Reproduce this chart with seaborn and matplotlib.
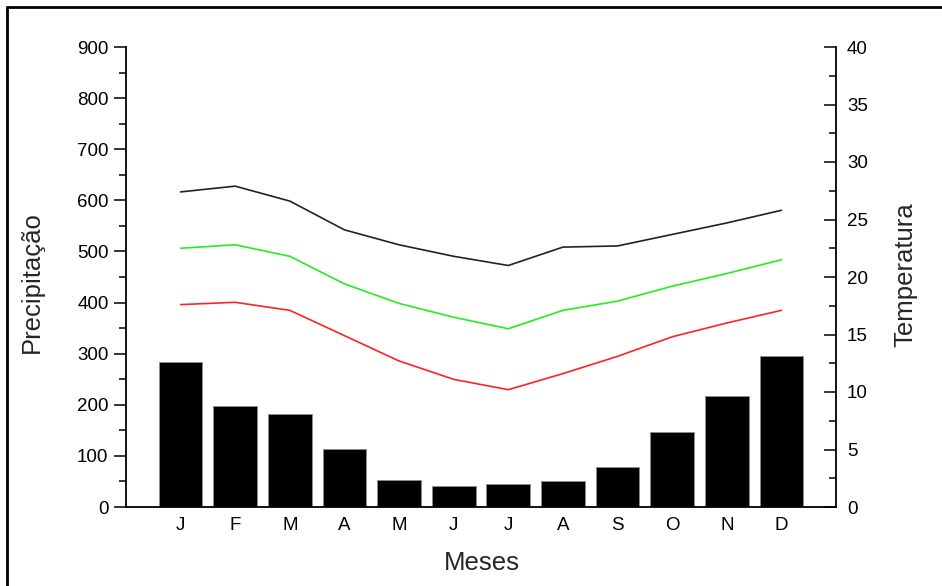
import numpy as np
import pandas as pd
import seaborn as sns
import matplotlib.pyplot as plt
from matplotlib.lines import Line2D
from matplotlib.ticker import MultipleLocator

# dados
meses = ["Jan", "Fev", "Mar", "Abr", "Mai", "Jun", "Jul", "Ago", "Set", "Out", "Nov", "Dez"]
rotulos = ["J", "F", "M", "A", "M", "J", "J", "A", "S", "O", "N", "D"]
precipitacao = [284, 198, 182, 114, 53, 41, 45, 50, 79, 147, 217, 295]
temp_max = [27.4, 27.9, 26.6, 24.1, 22.8, 21.8, 21.0, 22.6, 22.7, 23.7, 24.7, 25.8]
temp_media = [22.5, 22.8, 21.8, 19.4, 17.7, 16.5, 15.5, 17.1, 17.9, 19.2, 20.3, 21.5]
temp_min = [17.6, 17.8, 17.1, 14.9, 12.7, 11.1, 10.2, 11.6, 13.1, 14.8, 16.0, 17.1]


def main():
    sns.set_style("white")
    plt.rcParams['font.family'] = ['Liberation Sans', 'DejaVu Sans']

    pos = np.arange(len(meses))
    df = pd.DataFrame({
        "mes": meses,
        "pos": pos,
        "precipitacao": precipitacao,
        "max": temp_max,
        "media": temp_media,
        "min": temp_min,
    })

    fig = plt.figure(figsize=(9.42, 5.86), dpi=100)
    ax = fig.add_axes([126 / 942, 1 - 507 / 586, 710 / 942, 460 / 586])

    # Barras de precipitacao
    sns.barplot(data=df, x="mes", y="precipitacao", color="black", saturation=1,
                edgecolor="0.55", linewidth=0.7, width=0.8, ax=ax)
    ax.set_xlim(-1, len(meses))
    ax.set_ylim(0, 900)
    ax.set_xlabel("")
    ax.set_ylabel("")

    ax.set_xticks(pos)
    ax.set_xticklabels(rotulos)
    ax.set_xticks(np.arange(len(meses) + 1) - 0.5, minor=True)
    ax.tick_params(axis="x", which="major", length=0, pad=7, labelsize=13.5, labelcolor="black")
    ax.tick_params(axis="x", which="minor", direction="inout", length=7, width=1.1, color="black")

    ax.yaxis.set_major_locator(MultipleLocator(100))
    ax.yaxis.set_minor_locator(MultipleLocator(50))
    ax.tick_params(axis="y", which="major", direction="out", length=8.6, width=1.1,
                   pad=4, labelsize=13.5, color="black", labelcolor="black", left=True)
    ax.tick_params(axis="y", which="minor", direction="out", length=5, width=1.1,
                   color="black", left=True)

    for s in ["top", "right"]:
        ax.spines[s].set_visible(False)
    for s in ["left", "bottom"]:
        ax.spines[s].set_color("black")
        ax.spines[s].set_linewidth(1.3)

    # Temperaturas (eixo da direita)
    ax2 = ax.twinx()
    sns.lineplot(data=df, x="pos", y="max", color="#222222", linewidth=1.2, ax=ax2)
    sns.lineplot(data=df, x="pos", y="media", color="#22ee22", linewidth=1.2, ax=ax2)
    sns.lineplot(data=df, x="pos", y="min", color="#ff2222", linewidth=1.2, ax=ax2)
    ax2.set_xlim(-1, len(meses))
    ax2.set_ylim(0, 40)
    ax2.set_xlabel("")
    ax2.set_ylabel("")

    ax2.yaxis.set_major_locator(MultipleLocator(5))
    ax2.yaxis.set_minor_locator(MultipleLocator(2.5))
    ax2.tick_params(axis="y", which="major", direction="in", length=8.6, width=1.1,
                    pad=8, labelsize=13.5, color="black", labelcolor="black", right=True)
    ax2.tick_params(axis="y", which="minor", direction="in", length=5, width=1.1,
                    color="black", right=True)

    for s in ["top", "left", "bottom"]:
        ax2.spines[s].set_visible(False)
    ax2.spines["right"].set_color("black")
    ax2.spines["right"].set_linewidth(1.3)

    # Rotulos dos eixos
    fig.text(32 / 942, 1 - 282 / 586, "Precipitação", rotation=90, ha="center", va="center", fontsize=18.5)
    fig.text(905 / 942, 1 - 275 / 586, "Temperatura", rotation=90, ha="center", va="center", fontsize=18.5)
    fig.text(482 / 942, 1 - 563 / 586, "Meses", ha="center", va="center", fontsize=18.5)

    # Moldura (so aparecem topo e esquerda)
    fig.add_artist(Line2D([7 / 942, 7 / 942], [0, 1 - 6.5 / 586], transform=fig.transFigure,
                          color="black", linewidth=2))
    fig.add_artist(Line2D([7 / 942, 1], [1 - 6.5 / 586, 1 - 6.5 / 586], transform=fig.transFigure,
                          color="black", linewidth=2))

    fig.savefig("out.png", dpi=100)
    plt.close(fig)


if __name__ == "__main__":
    main()
